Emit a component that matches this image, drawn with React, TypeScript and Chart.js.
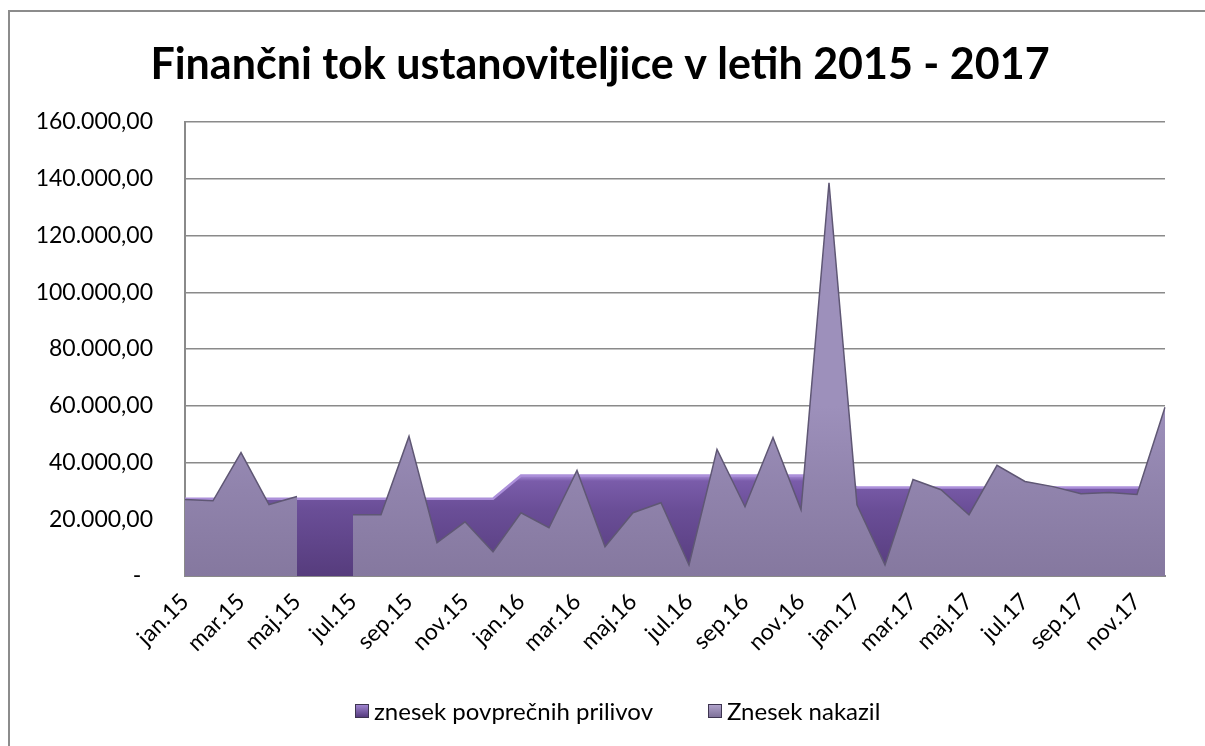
import React, { useEffect, useRef } from 'react';
import { Chart, registerables } from 'chart.js';

Chart.register(...registerables);

const TITLE = 'Finančni tok ustanoviteljice v letih 2015 - 2017';

const months = [
  'jan.15', 'feb.15', 'mar.15', 'apr.15', 'maj.15', 'jun.15', 'jul.15', 'avg.15', 'sep.15', 'okt.15', 'nov.15', 'dec.15',
  'jan.16', 'feb.16', 'mar.16', 'apr.16', 'maj.16', 'jun.16', 'jul.16', 'avg.16', 'sep.16', 'okt.16', 'nov.16', 'dec.16',
  'jan.17', 'feb.17', 'mar.17', 'apr.17', 'maj.17', 'jun.17', 'jul.17', 'avg.17', 'sep.17', 'okt.17', 'nov.17', 'dec.17',
];

const seriesNames = ['znesek povprečnih prilivov', 'Znesek nakazil'];

const povprecniPrilivi = [
  27200, 27200, 27200, 27200, 27200, 27200, 27200, 27200, 27200, 27200, 27200, 27200,
  35400, 35400, 35400, 35400, 35400, 35400, 35400, 35400, 35400, 35400, 35400, 35400,
  31200, 31200, 31200, 31200, 31200, 31200, 31200, 31200, 31200, 31200, 31200, 31200,
];

const nakazila = [
  27000, 26500, 43500, 25200, 28000, null, 21600, 21600, 49200, 11700, 19100, 8500,
  22300, 17000, 37200, 10300, 22300, 25800, 3900, 44600, 24400, 48800, 23400, 138600,
  25100, 3900, 34000, 30400, 21600, 39000, 33300, 31500, 29000, 29400, 28700, 59500,
];

const yMin = 0;
const yMax = 160000;
const yStep = 20000;

const FONT = 'Lato, "Open Sans", sans-serif';

function fmt(v: number): string {
  if (v === 0) return '-  ';
  const s = Math.round(v).toString();
  const parts: string[] = [];
  for (let i = s.length; i > 0; i -= 3) parts.unshift(s.substring(Math.max(0, i - 3), i));
  return parts.join('.') + ',00';
}

const overlayPlugin = {
  id: 'overlay',
  afterDraw(chart: any) {
    const ctx = chart.ctx;
    ctx.save();
    // title
    ctx.fillStyle = '#000000';
    ctx.font = `bold 43px ${FONT}`;
    ctx.textAlign = 'center';
    ctx.textBaseline = 'alphabetic';
    ctx.fillText(TITLE, 590, 67);

    // legend
    const items = [
      { x: 345, c1: '#a58ad6', c2: '#4f3577' },
      { x: 698, c1: '#b4a6cf', c2: '#7a6d95' },
    ];
    ctx.font = `24px ${FONT}`;
    ctx.textAlign = 'left';
    items.forEach((it, i) => {
      const g = ctx.createLinearGradient(0, 692, 0, 706);
      g.addColorStop(0, it.c1);
      g.addColorStop(1, it.c2);
      ctx.fillStyle = g;
      ctx.fillRect(it.x, 692, 14, 14);
      ctx.strokeStyle = '#3e3550';
      ctx.lineWidth = 1;
      ctx.strokeRect(it.x + 0.5, 692.5, 13, 13);
      ctx.fillStyle = '#000000';
      ctx.fillText(seriesNames[i], it.x + 19, 708);
    });
    ctx.restore();
  },
};

export default function App() {
  const ref = useRef<HTMLCanvasElement | null>(null);

  useEffect(() => {
    if (!ref.current) return;
    const darkFill = (c: any) => {
      const chart = c.chart;
      const y = chart.scales && chart.scales.y;
      if (!chart.chartArea || !y) return '#6b4f98';
      const g = chart.ctx.createLinearGradient(0, y.getPixelForValue(36000), 0, y.getPixelForValue(0));
      g.addColorStop(0, '#b59ae4');
      g.addColorStop(0.07, '#7a5caa');
      g.addColorStop(0.35, '#6a4e97');
      g.addColorStop(1, '#563c7d');
      return g;
    };
    const lightFill = (c: any) => {
      const chart = c.chart;
      const y = chart.scales && chart.scales.y;
      if (!chart.chartArea || !y) return '#8d80a8';
      const g = chart.ctx.createLinearGradient(0, y.getPixelForValue(60000), 0, y.getPixelForValue(0));
      g.addColorStop(0, '#9d90bb');
      g.addColorStop(0.5, '#9083ac');
      g.addColorStop(1, '#85789f');
      return g;
    };

    const chart = new Chart(ref.current, {
      type: 'line',
      data: {
        labels: months,
        datasets: [
          {
            label: seriesNames[1],
            data: nakazila,
            fill: 'origin',
            backgroundColor: lightFill,
            borderColor: '#5f5774',
            borderWidth: 1.5,
            pointRadius: 0,
            tension: 0,
            spanGaps: false,
          },
          {
            label: seriesNames[0],
            data: povprecniPrilivi,
            fill: 'origin',
            backgroundColor: darkFill,
            borderColor: '#ac90da',
            borderWidth: 2.5,
            pointRadius: 0,
            tension: 0,
          },
        ],
      },
      options: {
        animation: false,
        responsive: false,
        maintainAspectRatio: false,
        layout: { padding: { left: 0, top: 110, right: 40, bottom: 0 } },
        plugins: {
          legend: { display: false },
          title: { display: false },
          tooltip: { enabled: false },
        },
        scales: {
          x: {
            type: 'category',
            offset: false,
            afterFit: (s: any) => { s.height = 170; },
            grid: { display: false, drawTicks: false },
            border: { display: true, color: '#8a8a8a', width: 2 },
            ticks: {
              autoSkip: false,
              maxRotation: 45,
              minRotation: 45,
              padding: 12,
              color: '#000000',
              font: { family: FONT, size: 23 },
              callback: (_v: any, i: number) => (i % 2 === 0 ? months[i] : ''),
            },
          },
          y: {
            min: yMin,
            max: yMax,
            afterFit: (s: any) => { s.width = 175; },
            grid: { color: '#8a8a8a', lineWidth: 1.5, drawTicks: false },
            border: { display: true, color: '#8a8a8a', width: 2 },
            ticks: {
              stepSize: yStep,
              padding: 32,
              color: '#000000',
              font: { family: FONT, size: 23 },
              callback: (v: any) => fmt(Number(v)),
            },
          },
        },
      },
      plugins: [overlayPlugin],
    });
    return () => chart.destroy();
  }, []);

  return (
    <div
      style={{
        position: 'fixed',
        left: 8,
        top: 10,
        width: 1197,
        height: 736,
        borderLeft: '2px solid #8c8c8c',
        borderTop: '2px solid #8c8c8c',
        boxSizing: 'border-box',
        background: '#ffffff',
      }}
    >
      <canvas ref={ref} width={1195} height={734} style={{ display: 'block', width: 1195, height: 734 }} />
    </div>
  );
}
